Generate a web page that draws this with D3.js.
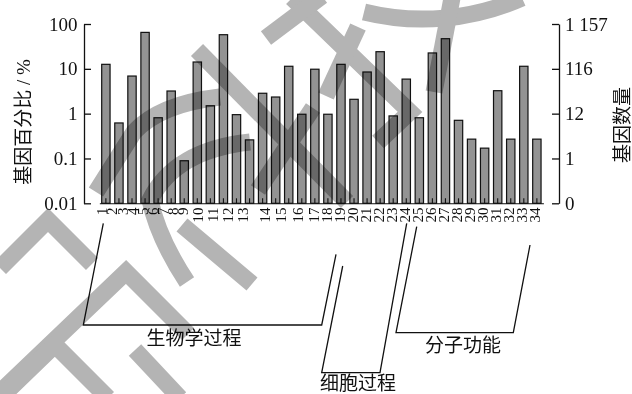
<!DOCTYPE html>
<html>
<head>
<meta charset="utf-8">
<script src="https://cdn.jsdelivr.net/npm/d3@7"></script>
<style>
  html, body { margin: 0; padding: 0; background: #fff; }
  svg { display: block; }
  text { font-family: "Liberation Serif", "Noto Sans CJK SC", serif; fill: #111; }
</style>
</head>
<body>
<svg id="chart" width="632" height="394"></svg>
<script>
// GO term numbers along the x axis
const categories = d3.range(1, 35).map(String);

// share of annotated genes per term (%), log scale
const genePercent = [
  12.6, 0.62, 6.9, 65, 0.81, 3.2, 0.089, 14.2, 1.5, 57.7,
  0.95, 0.26, 2.85, 2.35, 11.4, 0.97, 9.8, 0.97, 12.6, 2.09,
  8.5, 24.1, 0.89, 5.9, 0.81, 22.6, 47, 0.71, 0.27, 0.17,
  3.25, 0.27, 11.4, 0.27
];

// left axis: percentage, right axis: gene count on the same positions
const percentTicks = [100, 10, 1, 0.1, 0.01];
const percentTickLabels = ["100", "10", "1", "0.1", "0.01"];
const countTickLabels = ["1 157", "116", "12", "1", "0"];

const leftTitle = "基因百分比 / %";
const rightTitle = "基因数量";
const groupNames = ["生物学过程", "细胞过程", "分子功能"];

const svg = d3.select("#chart");
const frame = { left: 84, right: 559, top: 24, bottom: 203.3 };

const x = d3.scaleBand()
  .domain(categories)
  .range([99.35, 543.4])
  .paddingInner(0.36)
  .paddingOuter(0.18);

const y = d3.scaleLog()
  .domain([0.01, 100])
  .range([frame.bottom, frame.top]);

// bars
svg.append("g")
  .selectAll("rect")
  .data(genePercent)
  .join("rect")
  .attr("x", (d, i) => x(categories[i]))
  .attr("y", d => y(d))
  .attr("width", x.bandwidth())
  .attr("height", d => y(0.01) - y(d))
  .attr("fill", "#939393")
  .attr("stroke", "#111")
  .attr("stroke-width", 1.2);

// baseline with small ticks at each bar
const bottomAxis = svg.append("g")
  .attr("transform", `translate(0,${frame.bottom})`)
  .call(d3.axisBottom(x).tickSize(-5).tickSizeOuter(0).tickFormat(""));
bottomAxis.selectAll("path, line").attr("stroke", "#111").attr("stroke-width", 1.1);

// left percentage axis, ticks pointing inward
const leftAxis = svg.append("g")
  .attr("transform", `translate(${frame.left},0)`)
  .call(d3.axisLeft(y)
    .tickValues(percentTicks)
    .tickFormat((d, i) => percentTickLabels[i])
    .tickSize(-7)
    .tickSizeOuter(0)
    .tickPadding(6.5));

// right gene-count axis
const rightAxis = svg.append("g")
  .attr("transform", `translate(${frame.right},0)`)
  .call(d3.axisRight(y)
    .tickValues(percentTicks)
    .tickFormat((d, i) => countTickLabels[i])
    .tickSize(-7)
    .tickSizeOuter(0)
    .tickPadding(6));

[leftAxis, rightAxis].forEach(g => {
  g.selectAll("path, line").attr("stroke", "#111").attr("stroke-width", 1.3);
  g.selectAll("text")
    .attr("font-family", "Liberation Serif, serif")
    .attr("font-size", 19)
    .attr("fill", "#111");
});

// category numbers, rotated; the first ones are packed tighter than the bars
const lastCenter = x(categories[33]) + x.bandwidth() / 2 - 2.5;
const labelX = d3.scaleLinear()
  .domain([0, 8, 12, 13, 16, 33])
  .range([102, 183, 243, 265, 313.5, lastCenter]);

svg.append("g")
  .selectAll("text")
  .data(categories)
  .join("text")
  .attr("transform", (d, i) => `translate(${labelX(i)},207.5) rotate(-90)`)
  .attr("text-anchor", "end")
  .attr("dy", "0.35em")
  .attr("font-size", 15)
  .text(d => d);

// axis titles
svg.append("text")
  .attr("transform", "translate(23,122) rotate(-90)")
  .attr("text-anchor", "middle")
  .attr("dominant-baseline", "central")
  .attr("font-size", 19)
  .text(leftTitle);

svg.append("text")
  .attr("transform", "translate(622,125) rotate(-90)")
  .attr("text-anchor", "middle")
  .attr("dominant-baseline", "central")
  .attr("font-size", 19)
  .text(rightTitle);

// group brackets under the numbers
const brackets = [
  [[103.3, 223.3], [83.3, 325], [321.7, 325], [336, 254.3]],
  [[342.7, 266], [321.7, 372.7], [380, 372.7], [406.7, 223.3]],
  [[416.7, 226.7], [396, 332.7], [513.3, 332.7], [530, 245]]
];
const groupLabelPos = [[194, 338], [358, 383], [463, 345]];

svg.append("g")
  .selectAll("path")
  .data(brackets)
  .join("path")
  .attr("d", d3.line())
  .attr("fill", "none")
  .attr("stroke", "#111")
  .attr("stroke-width", 1.3);

svg.append("g")
  .selectAll("text")
  .data(groupNames)
  .join("text")
  .attr("x", (d, i) => groupLabelPos[i][0])
  .attr("y", (d, i) => groupLabelPos[i][1])
  .attr("text-anchor", "middle")
  .attr("dominant-baseline", "central")
  .attr("font-size", 19)
  .text(d => d);

// grey overprinted watermark strokes
const watermark = [
  "M197,50 L347,202",
  "M182,225 L252,284",
  "M96,192 L134,132 Q160,104 220,97",
  "M250,142 Q175,150 150,200 Q158,238 187,282",
  "M0,268 L48,220 L92,264",
  "M-5,397 L126,272 L188,334",
  "M0,398 L55,345 L108,398",
  "M135,350 L180,398",
  "M292,-2 L410,112 L378,142",
  "M266,38 L322,-4",
  "M358,27 L326,96",
  "M364,12 A245,245 0 0 0 522,-2",
  "M452,-2 L434,92",
  "M313,108 L258,190"
];
svg.append("g")
  .style("mix-blend-mode", "multiply")
  .selectAll("path")
  .data(watermark)
  .join("path")
  .attr("d", d => d)
  .attr("fill", "none")
  .attr("stroke", "#b4b4b4")
  .attr("stroke-width", 17)
  .attr("stroke-linejoin", "miter");
</script>
</body>
</html>
